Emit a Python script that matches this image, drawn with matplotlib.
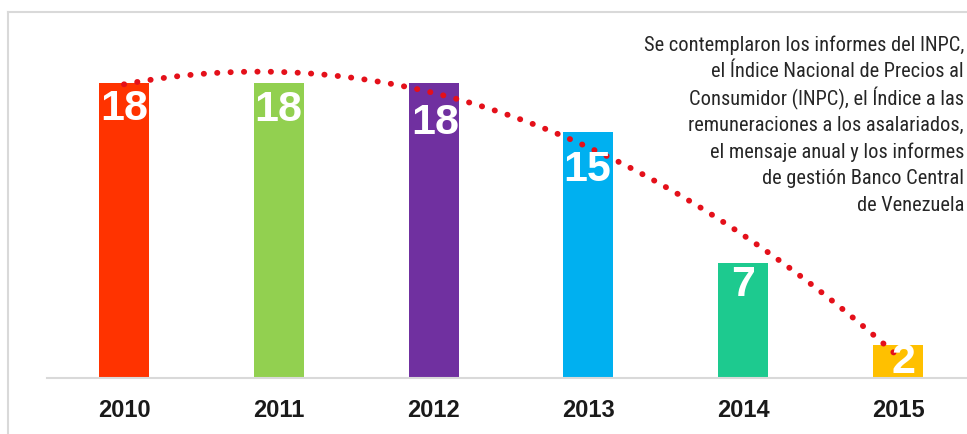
import numpy as np
import matplotlib.pyplot as plt
from matplotlib.lines import Line2D

# datos
years = ["2010", "2011", "2012", "2013", "2014", "2015"]
values = [18, 18, 18, 15, 7, 2]
colors = ["#FF3300", "#92D050", "#7030A0", "#00B0F0", "#1DCA8F", "#FFC000"]
note_lines = ["Se contemplaron los informes del INPC,",
              "el Índice Nacional de Precios al",
              "Consumidor (INPC), el Índice a las",
              "remuneraciones a los asalariados,",
              "el mensaje anual y los informes",
              "de gestión Banco Central",
              "de Venezuela"]

# cuanto baja cada etiqueta desde el tope de la barra (px)
label_drop = [26, 27, 40, 38, 22, 17]
label_shift = [0, 0, 1, -1, 0, 4]

plt.rcParams['font.family'] = ['Liberation Sans', 'DejaVu Sans']

fig = plt.figure(figsize=(9.67, 4.34), dpi=100)
W, H = 967, 434
ax = fig.add_axes([47 / W, (H - 378) / H, 920 / W, 366 / H])

x = np.arange(len(years))
ax.bar(x, values, width=0.323, color=colors, zorder=2)

# linea de tendencia (polinomio grado 2)
coef = np.polyfit(x, values, 2)
xs = np.linspace(0, len(years) - 1, 300)
ax.plot(xs, np.polyval(coef, xs), color="#E4101A", lw=4.2,
        linestyle=(0, (0.05, 2.25)), dash_capstyle="round", zorder=3)

for i, v in enumerate(values):
    ax.annotate(str(v), (x[i], v), xytext=(label_shift[i], -label_drop[i] * 0.72),
                textcoords="offset points", ha="center", va="center",
                color="white", fontsize=31, fontweight="bold", zorder=4)

ax.set_xlim(-0.497, 5.446)
ax.set_ylim(0, 22.3)
ax.set_xticks(x)
ax.set_xticklabels(years, fontsize=17, fontweight="bold", color="#1a1a1a")
ax.tick_params(axis="x", length=0, pad=15)
ax.set_yticks([])
for s in ["top", "right", "left"]:
    ax.spines[s].set_visible(False)
ax.spines["bottom"].set_color("#d9d9d9")
ax.spines["bottom"].set_linewidth(1.5)

# nota a la derecha, linea por linea
for k, line in enumerate(note_lines):
    fig.text(964 / W, 1 - (45 + 26.7 * k) / H, line, ha="right", va="center",
             fontsize=14.7, color="#262626",
             family=["Roboto Condensed", "Roboto", "DejaVu Sans"])

# marco gris de la captura
fig.add_artist(Line2D([8 / W, 1], [1 - 12 / H, 1 - 12 / H], color="#d9d9d9", lw=1.5))
fig.add_artist(Line2D([8 / W, 8 / W], [0, 1 - 12 / H], color="#d9d9d9", lw=1.5))

fig.savefig("out.png", dpi=100)
